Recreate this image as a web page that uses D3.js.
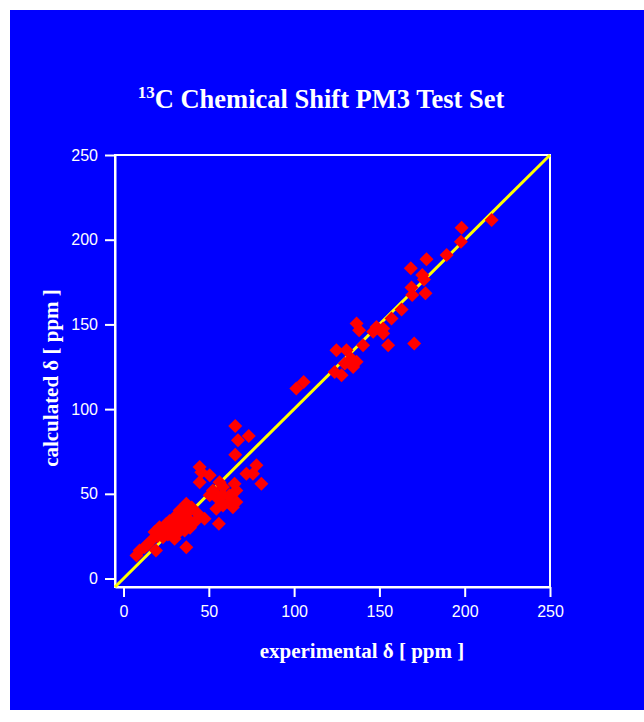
<!DOCTYPE html>
<html>
<head>
<meta charset="utf-8">
<script src="https://cdn.jsdelivr.net/npm/d3@7"></script>
<style>
  html, body { margin: 0; padding: 0; background: #ffffff; }
  svg { display: block; }
</style>
</head>
<body>
<div id="chart"></div>
<script>
// ---- data ----
const titleMain = "C Chemical Shift PM3 Test Set";
const titleSup = "13";
const xLabel = "experimental δ [ ppm ]";
const yLabel = "calculated δ [ ppm ]";
const xTicks = [0, 50, 100, 150, 200, 250];
const yTicks = [0, 50, 100, 150, 200, 250];
const axisDomain = [-5, 250];
const fitLine = [[-5, -5], [250, 250]];

const experimental = [
  7.6, 9.4, 12.3, 14, 16.3, 18.2, 19.0, 20, 21.1, 22, 23.1, 24, 25.1, 26, 27.0, 27, 28.0,
  29.9, 29.9, 30, 31, 32, 32.9, 33.9, 34, 35, 35.8, 36.8, 36.8, 38, 38.7, 39, 40, 41.7,
  43.6, 44.6, 45.6, 44.6, 47.5, 50.5, 50.5, 52.4, 54, 55.3, 54.4, 55.9, 56.3, 58.3, 58.3,
  58.3, 62.2, 62.2, 64.1, 65.1, 66.1, 66.1, 65.5, 65.5, 67.1, 73.4, 72.0, 75.9, 77.9, 80.8,
  101.3, 105.6, 123.8, 124.8, 127.8, 129.7, 130.7, 133.6, 134.6, 136.6, 136.6, 138.1, 140.4,
  146.3, 148.3, 152.2, 152.2, 155.1, 157.1, 163.0, 168.4, 168.8, 169.2, 170.4, 175.1, 176.1,
  177.0, 177.6, 189.4, 197.8, 198.2, 215.8
];
const calculated = [
  13.6, 16.5, 18.5, 20, 22.5, 27.4, 16.5, 25, 30.3, 29, 24.4, 28, 32.3, 26, 30.3, 34, 27.4,
  23.5, 36.2, 33, 30, 27, 40.2, 34.3, 32, 38, 28.4, 44.1, 18.5, 35, 40.2, 30, 42, 33.3,
  38.2, 56.9, 62.8, 65.8, 35.3, 49.1, 60.9, 52.0, 50, 47.1, 41.2, 32.3, 56.9, 43.1, 54.0,
  49.1, 45.1, 49.1, 42.1, 56.0, 45.1, 52.0, 90.0, 73.1, 81.6, 84.1, 61.9, 61.9, 66.8, 56.0,
  112.1, 116.0, 121.9, 134.8, 120.0, 126.9, 134.8, 129.8, 124.9, 127.9, 150.5, 146.6, 137.7,
  145.6, 148.5, 144.6, 147.6, 137.7, 153.5, 158.8, 183.2, 171.8, 167.3, 138.7, 179.1, 176.5,
  168.4, 188.5, 190.9, 198.8, 207.0, 211.6
];

// ---- layout ----
const W = 644, H = 722;
const plot = { left: 115, right: 550, top: 155, bottom: 587 };

const svg = d3.select("#chart").append("svg").attr("width", W).attr("height", H);

svg.append("rect").attr("x", 10).attr("y", 10).attr("width", W - 10).attr("height", H - 22)
  .attr("fill", "#0000ff");

const x = d3.scaleLinear().domain(axisDomain).range([plot.left, plot.right]);
const y = d3.scaleLinear().domain(axisDomain).range([plot.bottom, plot.top]);

// title
const title = svg.append("text")
  .attr("x", 321).attr("y", 108)
  .attr("text-anchor", "middle")
  .attr("fill", "#ffffff")
  .attr("font-family", "'Liberation Serif', 'Times New Roman', serif")
  .attr("font-weight", "bold")
  .attr("font-size", 26.5);
title.append("tspan").attr("font-size", 17).attr("dy", -10).text(titleSup);
title.append("tspan").attr("dy", 10).text(titleMain);

// frame
svg.append("rect")
  .attr("x", plot.left).attr("y", plot.top)
  .attr("width", plot.right - plot.left).attr("height", plot.bottom - plot.top)
  .attr("fill", "none").attr("stroke", "#ffffff").attr("stroke-width", 2);

// axes
const xAxis = d3.axisBottom(x).tickValues(xTicks).tickSize(10).tickPadding(9).tickSizeOuter(0);
const yAxis = d3.axisLeft(y).tickValues(yTicks).tickSize(10).tickPadding(7).tickSizeOuter(0);

const gx = svg.append("g").attr("transform", `translate(0,${plot.bottom})`).call(xAxis);
const gy = svg.append("g").attr("transform", `translate(${plot.left},0)`).call(yAxis);

[gx, gy].forEach(g => {
  g.select(".domain").attr("stroke", "#ffffff").attr("stroke-width", 2);
  g.selectAll(".tick line").attr("stroke", "#ffffff").attr("stroke-width", 2);
  g.selectAll(".tick text")
    .attr("fill", "#ffffff")
    .attr("font-family", "'Liberation Sans', Arial, sans-serif")
    .attr("font-size", 16);
});

// fit line
svg.append("line")
  .attr("x1", x(fitLine[0][0])).attr("y1", y(fitLine[0][1]))
  .attr("x2", x(fitLine[1][0])).attr("y2", y(fitLine[1][1]))
  .attr("stroke", "#ffff00").attr("stroke-width", 3);

// points
const pts = experimental.map((v, i) => [v, calculated[i]]);
const r = 7;
svg.append("g").selectAll("path").data(pts).join("path")
  .attr("d", d => {
    const cx = x(d[0]), cy = y(d[1]);
    return `M${cx},${cy - r}L${cx + r},${cy}L${cx},${cy + r}L${cx - r},${cy}Z`;
  })
  .attr("fill", "#ff0000");

// axis labels
svg.append("text")
  .attr("x", 362).attr("y", 658)
  .attr("text-anchor", "middle")
  .attr("fill", "#ffffff")
  .attr("font-family", "'Liberation Serif', 'Times New Roman', serif")
  .attr("font-weight", "bold")
  .attr("font-size", 21)
  .text(xLabel);

svg.append("text")
  .attr("transform", "translate(58,378) rotate(-90)")
  .attr("text-anchor", "middle")
  .attr("fill", "#ffffff")
  .attr("font-family", "'Liberation Serif', 'Times New Roman', serif")
  .attr("font-weight", "bold")
  .attr("font-size", 21)
  .text(yLabel);
</script>
</body>
</html>
